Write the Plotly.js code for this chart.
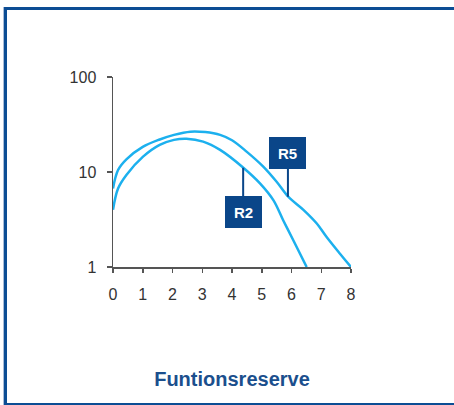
<!DOCTYPE html>
<html>
<head>
<meta charset="utf-8">
<script src="https://cdn.plot.ly/plotly-3.0.1.min.js"></script>
<style>
  html, body { margin: 0; padding: 0; background: #fff; }
  #wrap { position: relative; width: 454px; height: 405px; overflow: hidden; }
  #chart { position: absolute; left: 0; top: 0; width: 454px; height: 405px; }
  #frame { position: absolute; left: 4px; top: 7px; width: 470px; height: 393px;
           border-left: 3px solid #0c4d94; border-top: 3px solid #0c4d94; border-bottom: 3px solid #0c4d94;
           box-shadow: -1px 0 0 #a9bcd6; pointer-events: none; }
</style>
</head>
<body>
<div id="wrap">
  <div id="chart"></div>
  <div id="frame"></div>
</div>
<script>
// Data
const xR5 = [0, 0.17, 0.45, 1.0, 1.57, 2.05, 2.6, 3.1, 3.6, 4.0, 4.49, 5.05, 5.5, 5.89, 6.4, 6.85, 7.18, 7.63, 8.0];
const yR5 = [6.7, 10.5, 13.6, 18.4, 22.0, 24.6, 26.6, 26.3, 24.6, 21.6, 16.4, 11.4, 7.9, 5.5, 4.0, 2.87, 2.07, 1.38, 1.0];
const xR2 = [0, 0.17, 0.45, 1.01, 1.57, 2.05, 2.47, 3.03, 3.6, 4.38, 4.94, 5.39, 5.72, 6.06, 6.51];
const yR2 = [4.0, 6.7, 9.3, 14.5, 19.3, 21.8, 22.4, 20.9, 17.1, 11.1, 7.6, 5.06, 3.11, 1.91, 1.0];
const xTicks = [0, 1, 2, 3, 4, 5, 6, 7, 8];
const yTicks = [1, 10, 100];
const yTickText = ['1', '10', '100'];
const seriesNames = ['R5', 'R2'];
// label anchor points on curves (x, y)
const labelX = [5.88, 4.375];
const labelY = [5.48, 11.1];

const lineColor = '#1cb0ee';
const boxColor = '#0a4689';

const traces = [
  { x: xR5, y: yR5, name: seriesNames[0], mode: 'lines', line: { color: lineColor, width: 2.5, shape: 'spline', smoothing: 1 } },
  { x: xR2, y: yR2, name: seriesNames[1], mode: 'lines', line: { color: lineColor, width: 2.5, shape: 'spline', smoothing: 1 } }
];

const annotations = [
  { x: labelX[0], y: Math.log10(labelY[0]), xref: 'x', yref: 'y', text: '<b>' + seriesNames[0] + '</b>',
    showarrow: true, arrowhead: 0, arrowwidth: 2, arrowcolor: boxColor, ax: 0, ay: -44, standoff: 0,
    bgcolor: boxColor, width: 31, height: 26, borderpad: 2, bordercolor: boxColor,
    font: { family: 'Liberation Sans, Arial', size: 15, color: '#ffffff' } },
  { x: labelX[1], y: Math.log10(labelY[1]), xref: 'x', yref: 'y', text: '<b>' + seriesNames[1] + '</b>',
    showarrow: true, arrowhead: 0, arrowwidth: 2, arrowcolor: boxColor, ax: 0, ay: 44, standoff: 0,
    bgcolor: boxColor, width: 31, height: 26, borderpad: 2, bordercolor: boxColor,
    font: { family: 'Liberation Sans, Arial', size: 15, color: '#ffffff' } },
  { x: 8.49, y: 0.07, xref: 'x', yref: 'y', text: 'm', showarrow: false, xanchor: 'center', yanchor: 'middle',
    font: { family: 'Liberation Sans, Arial', size: 16, color: '#444' } }
];

const layout = {
  width: 454, height: 405,
  margin: { l: 113, r: 103, t: 77, b: 138 },
  paper_bgcolor: 'rgba(0,0,0,0)', plot_bgcolor: 'rgba(0,0,0,0)',
  showlegend: false,
  title: { text: '<b>Funtionsreserve</b>', xref: 'paper', x: 0.5, xanchor: 'center',
           yref: 'container', y: 1 - 379 / 405, yanchor: 'middle',
           font: { family: 'Liberation Sans, Arial', size: 20, color: '#1b4f8d' } },
  xaxis: { range: [0, 8], tickvals: xTicks, showgrid: false, zeroline: false,
           showline: true, linecolor: '#555', linewidth: 1.5, ticks: 'outside', ticklen: 4, tickwidth: 1.5, tickcolor: '#555',
           ticklabelstandoff: 8, tickfont: { family: 'Liberation Sans, Arial', size: 16, color: '#333' } },
  yaxis: { type: 'log', range: [0, 2], tickvals: yTicks, ticktext: yTickText, showgrid: false, zeroline: false,
           showline: true, linecolor: '#555', linewidth: 1.5, ticks: 'outside', ticklen: 5, tickwidth: 1.5, tickcolor: '#555',
           ticklabelstandoff: 7, tickfont: { family: 'Liberation Sans, Arial', size: 16, color: '#333' } },
  annotations: annotations
};

Plotly.newPlot('chart', traces, layout, { displayModeBar: false, staticPlot: true });
</script>
</body>
</html>
